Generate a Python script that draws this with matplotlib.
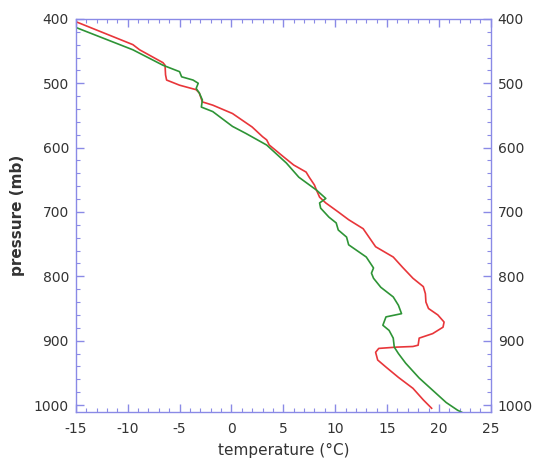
import matplotlib
matplotlib.use('Agg')
import matplotlib.pyplot as plt
from matplotlib.ticker import MultipleLocator

plt.rcParams['axes.unicode_minus'] = False

# temperature profile (red)
red_t = [-15.2, -9.5, -8.85, -6.6, -6.4, -6.35, -6.25, -5.0, -3.4, -3.1, -2.8, -1.8, 0.1, 2.0, 3.0,
         3.4, 3.65, 5.0, 6.0, 7.2, 7.5, 8.0, 8.2, 8.5, 9.1, 10.3, 11.3, 12.7,
         13.9, 15.6, 16.5, 17.5, 18.5, 18.7, 18.75, 19.0, 19.9, 20.5, 20.4, 19.4, 18.1, 18.0,
         17.5, 15.9, 14.2, 13.9, 14.1, 14.9, 16.1, 17.5, 18.5, 19.3]
red_p = [403, 440, 448, 468, 472, 487, 495, 503, 510, 515, 529, 534, 547, 568, 583,
         588, 596, 614, 627, 638, 646, 658, 666, 677, 686, 700, 712, 726,
         754, 770, 786, 803, 816, 827, 840, 850, 860, 871, 879, 889, 896, 907,
         909, 910, 912, 918, 930, 941, 957, 974, 992, 1005]

# second profile (green)
green_t = [-15.2, -9.5, -6.6, -5.0, -4.8, -3.7, -3.2, -3.4, -3.1, -2.8, -2.9, -1.8, 0.1, 1.4, 3.4,
           5.3, 6.5, 8.2, 9.1, 8.5, 8.6, 9.4, 10.1, 10.3, 11.1, 11.3, 13.0, 13.7, 13.5, 13.7,
           14.4, 15.6, 16.1, 16.4, 14.9, 14.6, 15.2, 15.6, 15.7, 16.1, 16.8, 18.1, 19.4, 20.7,
           21.8, 22.3]
green_p = [412, 448, 472, 482, 490, 495, 500, 508, 515, 526, 537, 544, 567, 578, 596,
           624, 646, 666, 679, 686, 694, 708, 717, 728, 739, 751, 770, 787, 795, 803,
           817, 832, 845, 858, 863, 876, 884, 896, 910, 920, 935, 958, 977, 996,
           1008, 1012]

fig = plt.figure(figsize=(5.34, 4.61), dpi=100)
ax = fig.add_axes([0.142, 0.106, 0.777, 0.853])

ax.plot(red_t, red_p, color='#e8363a', lw=1.2)
ax.plot(green_t, green_p, color='#2e9436', lw=1.2)

ax.set_xlim(-15, 25)
ax.set_ylim(1011, 400)

spine_c = '#8a8ae6'
for s in ax.spines.values():
    s.set_color(spine_c)
    s.set_linewidth(1.0)

ax.xaxis.set_major_locator(MultipleLocator(5))
ax.xaxis.set_minor_locator(MultipleLocator(1))
ax.yaxis.set_major_locator(MultipleLocator(100))
ax.yaxis.set_minor_locator(MultipleLocator(20))

ax.tick_params(which='both', direction='in', top=True, right=True, labelright=True,
               colors=spine_c, labelcolor='#333333', labelsize=10)
ax.tick_params(which='major', length=6, width=1)
ax.tick_params(which='minor', length=3, width=0.8)
ax.tick_params(axis='x', which='major', pad=7)
ax.tick_params(axis='y', which='major', pad=5)

ax.set_xlabel('temperature (°C)', fontsize=11, color='#333333', labelpad=5)
ax.set_ylabel('pressure (mb)', fontsize=11, fontweight='bold', color='#333333', labelpad=6)

fig.savefig('out.png', dpi=100)
